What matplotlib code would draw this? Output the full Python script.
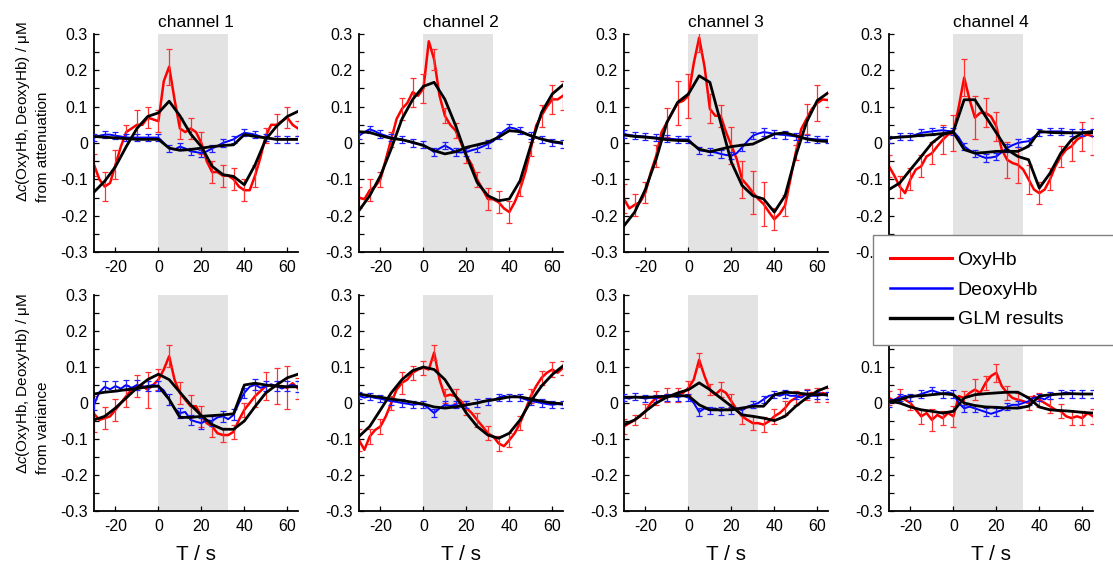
import numpy as np
import matplotlib.pyplot as plt
from matplotlib.lines import Line2D

plt.rcParams['font.family'] = 'Liberation Sans'
plt.rcParams['mathtext.fontset'] = 'custom'
plt.rcParams['mathtext.rm'] = 'Liberation Sans'
plt.rcParams['mathtext.it'] = 'Liberation Sans:italic'
plt.rcParams['axes.unicode_minus'] = False

# sample times (s): traces every 2.5 s, GLM fit / error bars every 5 s
t_fine = np.arange(-30, 65.1, 2.5)
t_coarse = np.arange(-30, 65.1, 5)

channels = ['channel 1', 'channel 2', 'channel 3', 'channel 4']
stim = (0, 32.5)

# all values in 0.01 uM
# --- row 1: from attenuation ---
oxy_att = [
    [-6, -10, -12, -11, -6, -1, 3, 4, 5, 5, 7, 6.5, 6, 17, 21, 12, 4, 3, 4, 3, 0, -5, -8, -8, -9, -9, -10, -12, -13, -13, -9, -4, 2, 5, 5, 6, 7, 5, 4],
    [-15, -15.5, -13, -12, -10, -4.5, 1, 6.6, 9.4, 11, 14, 13, 15, 28, 23, 13, 7.5, 5, 3.4, 0, -3.5, -6, -10, -12.7, -15.4, -15.5, -16.3, -18, -19, -16.3, -12.7, -8, -1.6, 4.8, 7.5, 10, 12, 12, 13],
    [-15.4, -18, -17, -16.3, -13.6, -8, -3.5, 3, 5.7, 8.4, 11, 11.6, 13, 22, 29, 21, 9.4, 7.5, 7.5, 3, -0.7, -4.4, -10, -11.7, -13.6, -15.4, -16.8, -19, -21, -19.5, -17.2, -10, -2.6, 3.8, 6.6, 9.4, 11, 12, 11.8],
    [-6.4, -9, -12, -13.8, -10, -7.3, -6.4, -3.7, -2.8, -0.9, 0.9, 2.3, 2.8, 10, 18, 12, 7, 8.3, 8.3, 7.3, 4.6, -1.8, -4.6, -5.5, -6, -7.3, -10, -12.8, -13.8, -12.8, -10, -6.4, -3.7, -1.8, -0.9, 0.9, 1.8, 2.3, 1.8],
]
oxy_att_err = [
    [3, 4, 4, 2, 4, 3, 3, 5, 3, 3, 3, 3, 3, 3, 3, 3, 2, 3, 3, 2],
    [3, 3, 2, 2, 3, 4, 4, 3, 2, 2, 2, 2, 3, 3, 3, 2, 2, 3, 4, 4],
    [4, 3, 3, 3, 4, 6, 6, 4, 4, 3, 5, 5, 6, 6, 3, 3, 2, 4, 5, 2],
    [3, 3, 3, 3, 3, 4, 5, 5, 6, 4, 4, 5, 5, 4, 3, 3, 3, 4, 4, 5],
]
deoxy_att = [
    [1.5, 2, 2.3, 2.3, 2, 1.8, 1.5, 1.5, 1.5, 1.5, 1.5, 1.5, 1.5, 0, -1.5, -1.8, -1, -1.5, -2.3, -2.5, -2.8, -2.3, -1.5, -0.8, 0, 0.5, 1, 2, 2.8, 2.6, 2.3, 1.8, 1.5, 1.2, 1, 1, 1, 1, 1],
    [2, 3, 3.8, 3.2, 2.5, 2, 1.5, 1.2, 1, 0.5, 0, -0.2, -0.5, -1.5, -2.5, -1.5, -0.7, -1.5, -2.5, -2.6, -2.5, -2, -1.6, -1, -0.3, 0.5, 2, 3.3, 4.3, 4, 3.4, 2.7, 2, 1.5, 1, 0.6, 0.2, 0, -0.3],
    [2.5, 2.2, 2, 1.9, 1.8, 1.6, 1.5, 1.3, 1.2, 1.1, 1, 1, 1, -0.5, -2, -2.2, -2.4, -2.6, -3, -3.3, -3.5, -2.8, -1.2, 0.5, 2, 2.6, 3, 2.8, 2.5, 2.3, 2.2, 2, 1.8, 1.5, 1.3, 1.1, 1, 0.9, 0.9],
    [1, 1.5, 1.8, 1.8, 1.8, 2.3, 2.8, 3, 3.2, 3.4, 3.5, 3.3, 3.2, 1.5, -0.9, -2, -2.8, -3.6, -4.1, -4, -3.7, -2.5, -1.4, -0.6, 0, 0.3, 0.5, 1.7, 2.8, 3, 3.2, 3.2, 3.2, 3, 2.9, 2.8, 2.8, 2.8, 2.8],
]
deoxy_att_err = [1, 1, 1, 1]
glm_oxy_att = [
    [-13.5, -10.5, -6.5, -1, 4, 7.3, 8.3, 11.5, 7.5, 2.5, -1, -6.4, -8.7, -9.2, -11.5, -6, 1, 4.6, 7.3, 8.7],
    [-18.6, -14.5, -9, -1.6, 6.6, 12, 15.6, 16.7, 12, 4.8, -3.5, -10.8, -14.5, -15.9, -15.4, -10.4, -0.7, 8.4, 13.5, 16],
    [-22.8, -19, -12.7, -4.4, 5.7, 11.2, 13.5, 18.5, 16.7, 5.7, -5.3, -11.7, -14.5, -15.4, -19, -14.5, -3.5, 5.7, 11.7, 13.8],
    [-12.8, -11, -7.3, -3.7, 0, 2.3, 3.2, 11.9, 11.9, 7.3, 2.8, -1.8, -3.7, -4.6, -12.4, -8.3, -2.8, 0.9, 2.8, 3.2],
]
glm_deoxy_att = [
    [1.8, 1.6, 1.4, 1.2, 1, 1, 1, -1.4, -2, -1.8, -1.4, -1, -0.7, -0.5, 2.3, 1.8, 1.4, 1, 1, 1],
    [3.1, 2.9, 2, 1.3, 0.9, 0.2, -0.7, -2.1, -3, -2.4, -1.2, -0.5, 0.2, 1.6, 3.4, 3.1, 2, 1.1, 0.4, 0],
    [2.2, 1.8, 1.6, 1.3, 0.9, 0.7, 0.6, -1.7, -2.4, -1.7, -1, -0.6, -0.3, 1.1, 2.5, 2.8, 2, 1.1, 0.6, 0.4],
    [1.4, 1.6, 1.8, 2.1, 2.3, 2.6, 2.9, -1.8, -2.8, -2.6, -2.3, -2.3, -2.3, -0.9, 3.2, 2.9, 2.8, 2.8, 2.8, 2.8],
]

# --- row 2: from variance ---
oxy_var = [
    [-3, -4.7, -4.2, -3.7, -1.9, 0, 1.9, 3.7, 4.7, 4.7, 3.7, 5, 6.5, 9.3, 13, 6.5, 2.8, 0.9, -0.9, -0.9, -3.7, -5.6, -6.5, -8.4, -8.9, -8.9, -8, -4.7, -1.9, 0, 1.9, 3.3, 4.7, 5, 4.7, 4.7, 4.2, 5.5, 4],
    [-10.3, -13, -9.3, -7.5, -6.5, -3.7, 0, 3.7, 5.6, 6.5, 8.4, 9.3, 9.8, 9.3, 14, 6.5, 1.9, 2.3, 1.9, 0.5, -1.4, -2.8, -4.7, -6.5, -8.4, -9.3, -11.2, -12, -10.3, -8.4, -5.6, -1.9, 1.9, 4.7, 7, 8.4, 9.3, 8.4, 9.8],
    [-6.5, -5.6, -4.7, -3.7, -2.3, 0, 1.4, 1.4, 2.3, 1.9, 2.3, 2.8, 4.2, 6.5, 12, 7.5, 3.7, 2.3, 3.7, 2.8, 0.5, -1.9, -3.7, -4.7, -5.6, -5.6, -6, -5.1, -3.7, -2.8, -1.4, 0.5, 1.4, 2.3, 2.3, 2.8, 2.3, 2.8, 2.3],
    [1.4, 0.5, 1.9, 0.9, 0, -1.9, -3.7, -2.8, -4.7, -3.3, -4.2, -2.8, -3.7, 1.9, 1.4, 2.8, 3.7, 2.8, 5.6, 7.5, 8.4, 4.7, 2.8, 1.4, 0.9, 0.5, 0, 1.9, 0.9, 0, -0.9, -1.9, -2.3, -3.7, -4.2, -3.7, -4.2, -2.8, -3.7],
]
oxy_var_err = [
    [5, 3, 3, 3, 3, 5, 3, 3, 3, 3, 3, 3, 2, 2, 2, 3, 4, 5, 6, 3],
    [3, 2, 2, 2, 3, 2, 2, 2, 2, 2, 2, 2, 2, 2, 2, 2, 2, 2, 2, 2],
    [2, 1.5, 2, 2, 2, 2, 2, 2, 1.5, 2, 2, 2, 2, 2, 2, 2, 2, 1.5, 2, 2],
    [2, 2, 2, 2, 3, 2, 3, 2, 3, 2, 2.5, 2, 2, 2, 2, 2, 2, 2, 2, 2],
]
deoxy_var = [
    [-0.5, 3, 4.5, 3.8, 4.7, 4, 5, 4.2, 5, 4.5, 4.7, 5, 4.7, 3.5, 1, -1.5, -2.8, -2.5, -4.7, -5.2, -5.6, -4.8, -5, -4, -3.7, -4.5, -3.3, 0, 2.8, 4.5, 5.1, 4.2, 4.7, 5.2, 4.7, 4, 4.7, 5, 4.5],
    [2, 1.5, 1.8, 1.4, 1.2, 0.8, 0.5, 0.3, 0, -0.2, -0.5, -0.3, -0.5, -1.5, -2.8, -1.5, -0.5, -0.8, -0.5, -1, -0.5, -0.3, 0, 0.5, 0.5, 0.8, 1.5, 2, 1.5, 2, 1.5, 1, 0.5, 0.3, 0, -0.3, -0.5, -0.3, -0.5],
    [1.5, 1.2, 1.8, 1.5, 1.2, 1.5, 1.3, 2, 1.5, 2, 1.6, 2, 1.5, 0, -2.5, -1.5, -2, -1.5, -2.2, -1.8, -2, -1.5, -2, -1, -0.5, 0, 1, 2, 2.3, 2, 2.5, 2, 2, 1.5, 2.5, 2, 2, 2.3, 2],
    [0, 1, 1.5, 2, 1.5, 2, 2.5, 3, 3.5, 3, 2.5, 3, 2.5, 0, -1.5, -1, -1.5, -2, -2.5, -3, -2.5, -2, -1, -0.5, -0.5, 0, 0.5, 1.5, 1.5, 1, 2, 2.5, 2.5, 3, 2.5, 2.5, 2.5, 2.5, 2.5],
]
deoxy_var_err = [1.5, 1, 1, 1]
glm_oxy_var = [
    [-4.7, -3.7, -1.4, 1.4, 4.2, 6.5, 8, 6.5, 3, -0.5, -3.5, -6, -7.3, -7.3, -5, -1, 2.8, 5, 7, 8],
    [-9.3, -6.5, -1.9, 2.8, 6.5, 9, 10, 9.3, 6.5, 1.9, -2.8, -6.5, -8.9, -9.8, -8.4, -4.7, 0.5, 4.7, 7.9, 10.3],
    [-6, -4.7, -2.3, 0, 1.6, 2.8, 3.7, 5.6, 3.7, 1.4, -0.9, -3.3, -3.7, -4.2, -4.9, -3.7, -0.9, 1.4, 3.3, 4.5],
    [0.5, 0, -1.1, -1.9, -2.3, -2.8, -2.3, 1.4, 2.3, 2.6, 2.8, 3, 3, 1.4, -1.1, -1.9, -2.1, -2.3, -2.6, -2.8],
]
glm_deoxy_var = [
    [2.5, 3, 3.3, 3.7, 4, 4.5, 4.7, 1, -4, -4, -3.7, -3.5, -3.3, -3, 5, 5.5, 5, 4.7, 4.5, 4.5],
    [2.5, 2, 1.6, 1.1, 0.7, 0.2, -0.3, -1.1, -1.4, -1.1, -0.5, 0, 0.7, 1.1, 1.7, 1.7, 1.1, 0.5, 0, -0.2],
    [1.6, 1.6, 1.6, 1.7, 1.9, 2, 2, -0.5, -1.9, -1.9, -1.9, -1.4, -0.9, -0.9, 2.3, 3, 2.8, 2.5, 2.3, 2.3],
    [0.5, 0.9, 1.9, 2, 2.3, 2.6, 2.3, 0, -0.7, -1.1, -1.2, -1.4, -1.4, -0.9, 1.9, 2.3, 2.5, 2.6, 2.5, 2.5],
]

W, H = 1113, 566
fig = plt.figure(figsize=(W / 100, H / 100), dpi=100)
lefts = [94, 359, 624, 889]
rows = [
    (34, 252, oxy_att, oxy_att_err, deoxy_att, deoxy_att_err, glm_oxy_att, glm_deoxy_att),
    (295, 511, oxy_var, oxy_var_err, deoxy_var, deoxy_var_err, glm_oxy_var, glm_deoxy_var),
]
yt = [-0.3, -0.2, -0.1, 0, 0.1, 0.2, 0.3]
ytl = ['-0.3', '-0.2', '-0.1', '0', '0.1', '0.2', '0.3']

for r, (top, bot, oxy, oxy_err, deo, deo_err, g_oxy, g_deo) in enumerate(rows):
    for c in range(4):
        ax = fig.add_axes([lefts[c] / W, 1 - bot / H, 204 / W, (bot - top) / H])
        ax.axvspan(*stim, color='#e3e3e3', lw=0, zorder=0)
        red = np.array(oxy[c]) * 0.01
        blue = np.array(deo[c]) * 0.01
        ax.plot(t_fine, red, color='#ff0000', lw=1.8, zorder=2)
        ax.errorbar(t_coarse, red[::2], yerr=np.array(oxy_err[c]) * 0.01, fmt='none',
                    ecolor='#ff3030', elinewidth=0.9, capsize=2.2, capthick=0.9, zorder=2)
        ax.plot(t_fine, blue, color='#0000ff', lw=1.4, zorder=3)
        ax.errorbar(t_coarse, blue[::2], yerr=deo_err[c] * 0.01, fmt='none',
                    ecolor='#2020ff', elinewidth=0.9, capsize=2.2, capthick=0.9, zorder=3)
        ax.plot(t_coarse, np.array(g_oxy[c]) * 0.01, color='k', lw=2, zorder=4)
        ax.plot(t_coarse, np.array(g_deo[c]) * 0.01, color='k', lw=2, zorder=4)

        ax.set_xlim(-30, 65)
        ax.set_ylim(-0.3, 0.3)
        ax.spines['top'].set_visible(False)
        ax.spines['right'].set_visible(False)
        ax.spines['left'].set_linewidth(1.3)
        ax.spines['bottom'].set_linewidth(1.3)
        ax.set_xticks([-20, 0, 20, 40, 60])
        ax.set_yticks(yt)
        labels = list(ytl)
        if r == 1 and c == 3:
            # these two labels sit under the legend
            labels[5] = labels[6] = ''
        ax.set_yticklabels(labels)
        ax.set_yticks(np.arange(-0.25, 0.3, 0.1), minor=True)
        ax.tick_params(direction='in', length=3.5, width=0.9, labelsize=11.5)
        ax.tick_params(axis='y', pad=4.5)
        ax.tick_params(axis='x', pad=6)
        ax.tick_params(which='minor', direction='in', length=3.5, width=0.9)
        if r == 0:
            ax.set_title(channels[c], fontsize=12.5, pad=5)
            if c == 3:
                ax.tick_params(axis='x', labelbottom=False)
        else:
            ax.set_xlabel('T / s', fontsize=15, labelpad=8)

fig.text(32 / W, 1 - 112 / H, 'Δ$c$(OxyHb, DeoxyHb) / μM\nfrom attenuation',
         rotation=90, ha='center', va='center', multialignment='left',
         fontsize=11, linespacing=1.4)
fig.text(32 / W, 1 - 384 / H, 'Δ$c$(OxyHb, DeoxyHb) / μM\nfrom variance',
         rotation=90, ha='center', va='center', multialignment='left',
         fontsize=11, linespacing=1.4)

handles = [Line2D([], [], color='#ff0000', lw=2.2),
           Line2D([], [], color='#0000ff', lw=1.8),
           Line2D([], [], color='k', lw=2.4)]
leg = fig.legend(handles, ['OxyHb', 'DeoxyHb', 'GLM results'], loc='upper left',
                 bbox_to_anchor=(873 / W, 1 - 347 / H, 300 / W, 112 / H), mode='expand',
                 borderaxespad=0, fontsize=14, handlelength=3.2, handletextpad=0.3,
                 labelspacing=0.62, borderpad=0.85, fancybox=False, edgecolor='#808080',
                 framealpha=1)
leg.get_frame().set_linewidth(1.0)

fig.savefig('out.png', dpi=100)
